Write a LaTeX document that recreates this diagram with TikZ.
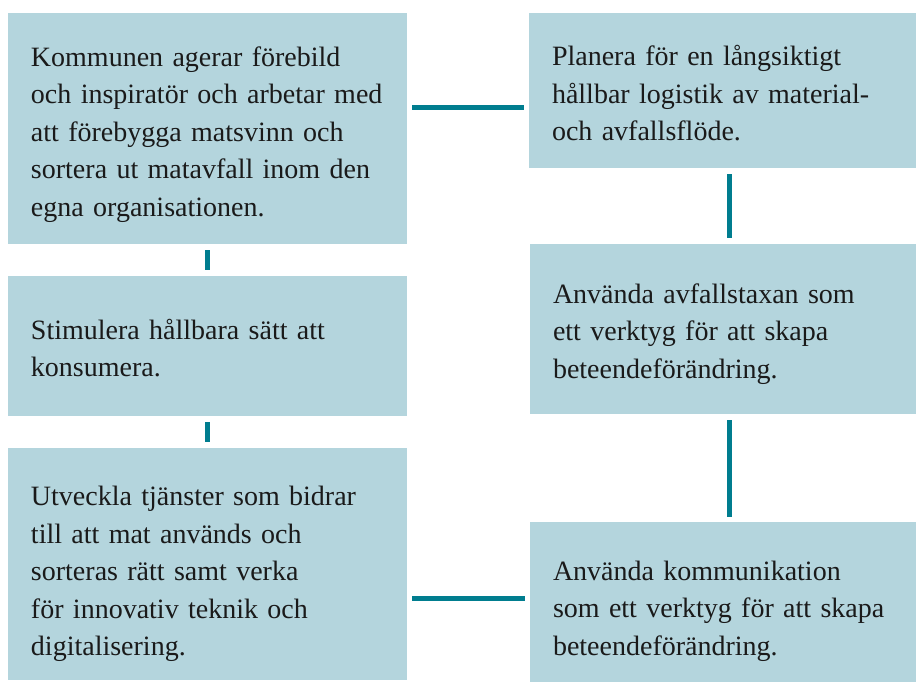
\documentclass[tikz,border=0pt]{standalone}
\usepackage{fontspec}
\setmainfont{Liberation Serif}
\usepackage{tikz}
\usetikzlibrary{positioning}

\definecolor{boxblue}{HTML}{B4D5DD}
\definecolor{linkteal}{HTML}{007D8F}
\definecolor{textdark}{HTML}{1A1A1A}

\tikzset{
	goalbox/.style={fill=boxblue,anchor=north west,inner sep=0pt,outer sep=0pt},
	leftbox/.style={goalbox,minimum width=199.5pt},
	rightbox/.style={goalbox,minimum width=193.5pt},
	goaltext/.style={inner xsep=11.5pt,inner ysep=0pt,align=left,text=textdark,
		font=\fontsize{14}{18.75}\selectfont},
	lefttext/.style={goaltext,text width=176.5pt},
	righttext/.style={goaltext,text width=170.5pt},
	link/.style={draw=linkteal,line width=2.5pt}
}

\begin{document}
\begin{tikzpicture}[x=0.5pt,y=-0.5pt]
	\useasboundingbox (0,0) rectangle (916,682);
	% left column
	\node[leftbox,minimum height=115.5pt] (forebild) at (8,13) {};
	\node[lefttext,yshift=-3pt] (forebild-text) at (forebild.center) {Kommunen agerar förebild\\och inspiratör och arbetar med\\att förebygga matsvinn och\\sortera ut matavfall inom den\\egna organisationen.};
	\node[leftbox,minimum height=70pt] (konsumera) at (8,276) {};
	\node[lefttext,yshift=-1pt] (konsumera-text) at (konsumera.center) {Stimulera hållbara sätt att\\konsumera.};
	\node[leftbox,minimum height=116pt] (tjanster) at (8,448) {};
	\node[lefttext,yshift=-5pt] (tjanster-text) at (tjanster.center) {Utveckla tjänster som bidrar\\till att mat används och\\sorteras rätt samt verka\\för innovativ teknik och\\digitalisering.};
	% right column
	\node[rightbox,minimum height=77.5pt] (logistik) at (529,13) {};
	\node[righttext,yshift=-1.5pt] (logistik-text) at (logistik.center) {Planera för en långsiktigt\\hållbar logistik av material-\\och avfallsflöde.};
	\node[rightbox,minimum height=85pt] (taxa) at (530,244) {};
	\node[righttext,yshift=-2.5pt] (taxa-text) at (taxa.center) {Använda avfallstaxan som\\ett verktyg för att skapa\\beteendeförändring.};
	\node[rightbox,minimum height=80pt] (kommunikation) at (530,522) {};
	\node[righttext,yshift=-4.5pt] (kommunikation-text) at (kommunikation.center) {Använda kommunikation\\som ett verktyg för att skapa\\beteendeförändring.};

	\coordinate (toprow) at (0,107);
	\coordinate (bottomrow) at (0,598);
	\coordinate (rightcol) at (729,0);

	\draw[link,shorten <=2.5pt,shorten >=2.5pt] (forebild.east |- toprow) -- (logistik.west |- toprow);
	\draw[link,shorten <=3pt,shorten >=3pt] (forebild.south) -- (konsumera.north);
	\draw[link,shorten <=3pt,shorten >=3pt] (konsumera.south) -- (tjanster.north);
	\draw[link,shorten <=2.5pt,shorten >=2.5pt] (tjanster.east |- bottomrow) -- (kommunikation.west |- bottomrow);
	\draw[link,shorten <=3pt,shorten >=3pt] (logistik.south -| rightcol) -- (taxa.north -| rightcol);
	\draw[link,shorten <=3pt,shorten >=2.5pt] (taxa.south -| rightcol) -- (kommunikation.north -| rightcol);
\end{tikzpicture}
\end{document}
